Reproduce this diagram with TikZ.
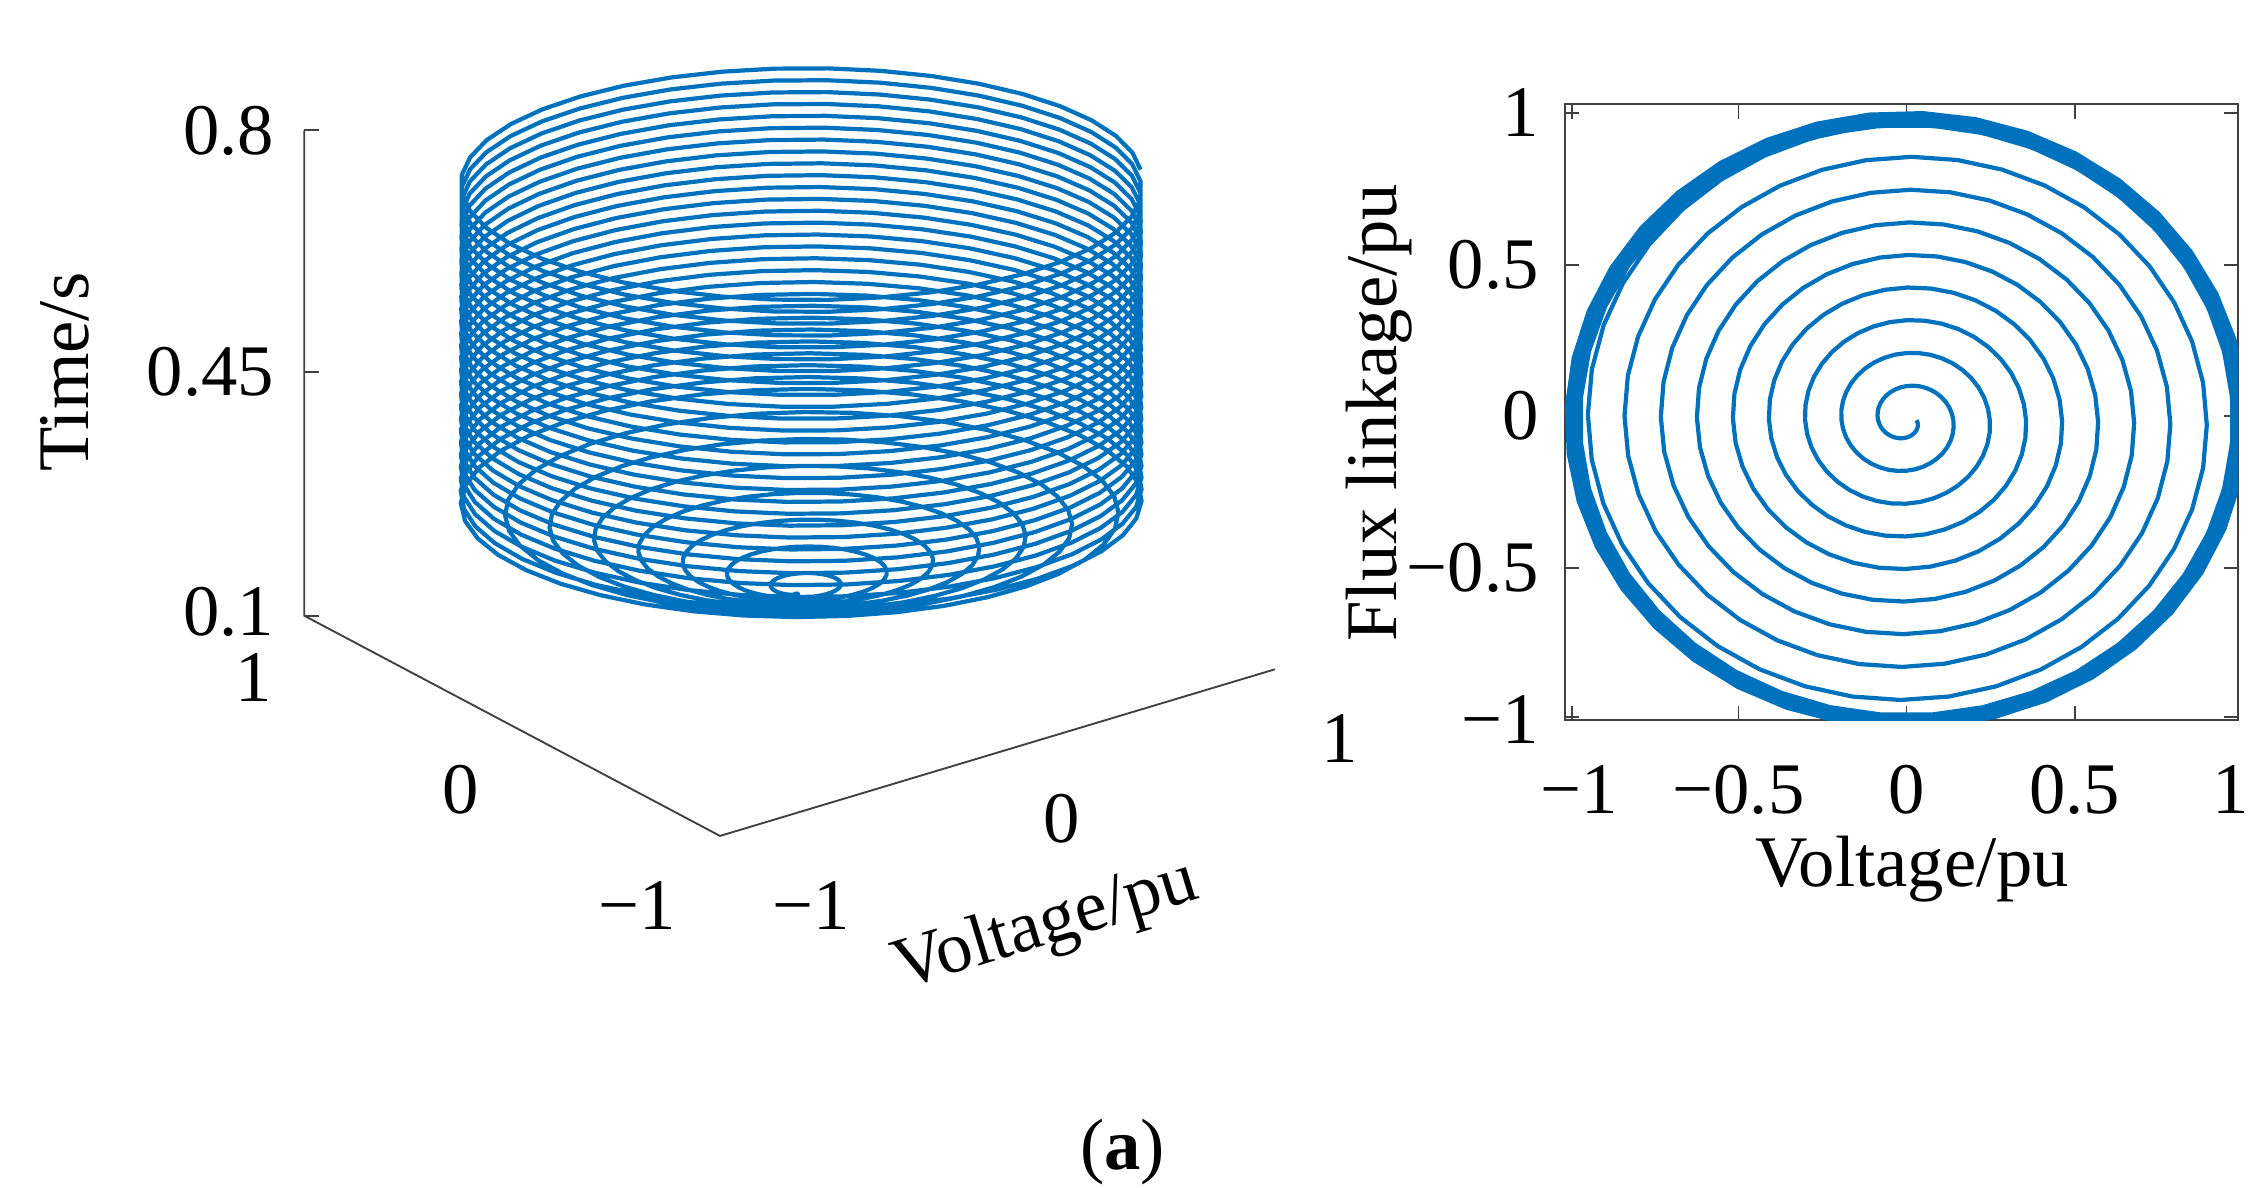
\documentclass[tikz,border=0pt]{standalone}
\usepackage{fontspec}
\setmainfont{Liberation Serif}
\definecolor{mblue}{RGB}{0,114,189}
\begin{document}
\begin{tikzpicture}[x=0.04346cm,y=-0.04346cm,
  lab/.style={font=\fontsize{62}{74}\selectfont},
  ax/.style={line width=1.6pt,black!75},
  curve/.style={mblue,line width=3.6pt,line join=round}]
\useasboundingbox (0,0) rectangle (1560,820);
% ---- left 3D plot axes
\coordinate (t8) at (210,90);
\coordinate (t1) at (210,425);
\coordinate (c) at (497,577);
\coordinate (e) at (880,462);
\draw[ax] (t8) -- (t1) -- (c) -- (e);
\foreach \y in {90,257,425} \draw[ax] (210,\y) -- (220,\y);
\node[lab,anchor=east] (l08) at (192,90) {0.8};
\node[lab,anchor=east] (l045) at (192,257) {0.45};
\node[lab,anchor=east] (l01) at (192,422) {0.1};
\node[lab] (ly1) at (175,468) {1};
\node[lab] (ly0) at (318,545) {0};
\node[lab] (lym) at (440,625) {−1};
\node[lab] (lxm) at (560,625) {−1};
\node[lab] (lx0) at (733,565) {0};
\node[lab] (lx1) at (925,510) {1};
\node[lab,rotate=90] (tlab) at (45,257) {Time/s};
\node[lab,rotate=17] (vlab) at (722,640) {Voltage/pu};
% helix: parameter \x = turns since t=0.1 (50 Hz, 35 turns)
\draw[curve] plot[domain=0:35,samples=1400]
  ({548+5*min(1,\x/7.5)+235*min(1,\x/7.5)*cos(360*\x)},
   {410-\x*8.2+78*min(1,\x/7.5)*sin(360*\x)});
% ---- right 2D plot
\draw[ax] (1080,72) rectangle (1545,497);
\foreach \x in {1085,1200,1316,1432,1545} {\draw[ax] (\x,497) -- (\x,487); \draw[ax] (\x,72) -- (\x,82);}
\foreach \y in {78,183,287,392,495} {\draw[ax] (1080,\y) -- (1090,\y); \draw[ax] (1545,\y) -- (1535,\y);}
\node[lab] (bx1) at (1090,545) {−1};
\node[lab] (bx2) at (1200,545) {−0.5};
\node[lab] (bx3) at (1316,545) {0};
\node[lab] (bx4) at (1432,545) {0.5};
\node[lab] (bx5) at (1540,545) {1};
\node[lab,anchor=east] (by1) at (1065,78) {1};
\node[lab,anchor=east] (by2) at (1065,183) {0.5};
\node[lab,anchor=east] (by3) at (1065,287) {0};
\node[lab,anchor=east] (by4) at (1065,392) {−0.5};
\node[lab,anchor=east] (by5) at (1065,497) {−1};
\node[lab,rotate=90] (flab) at (952,285) {Flux linkage/pu};
\node[lab] (vlab2) at (1320,600) {Voltage/pu};
\begin{scope}
\clip (1080,72) rectangle (1545,497);
\draw[curve] plot[domain=0:35,samples=1400]
  ({1316+230*min(1,\x/9+0.03)*(1-0.02*sin(13*\x))*cos(360*\x)},
   {290+208*min(1,\x/9+0.03)*(1-0.02*sin(13*\x))*sin(360*\x)});
\end{scope}
\node[lab] (cap) at (775,795) {(\textbf{a})};
\end{tikzpicture}
\end{document}
